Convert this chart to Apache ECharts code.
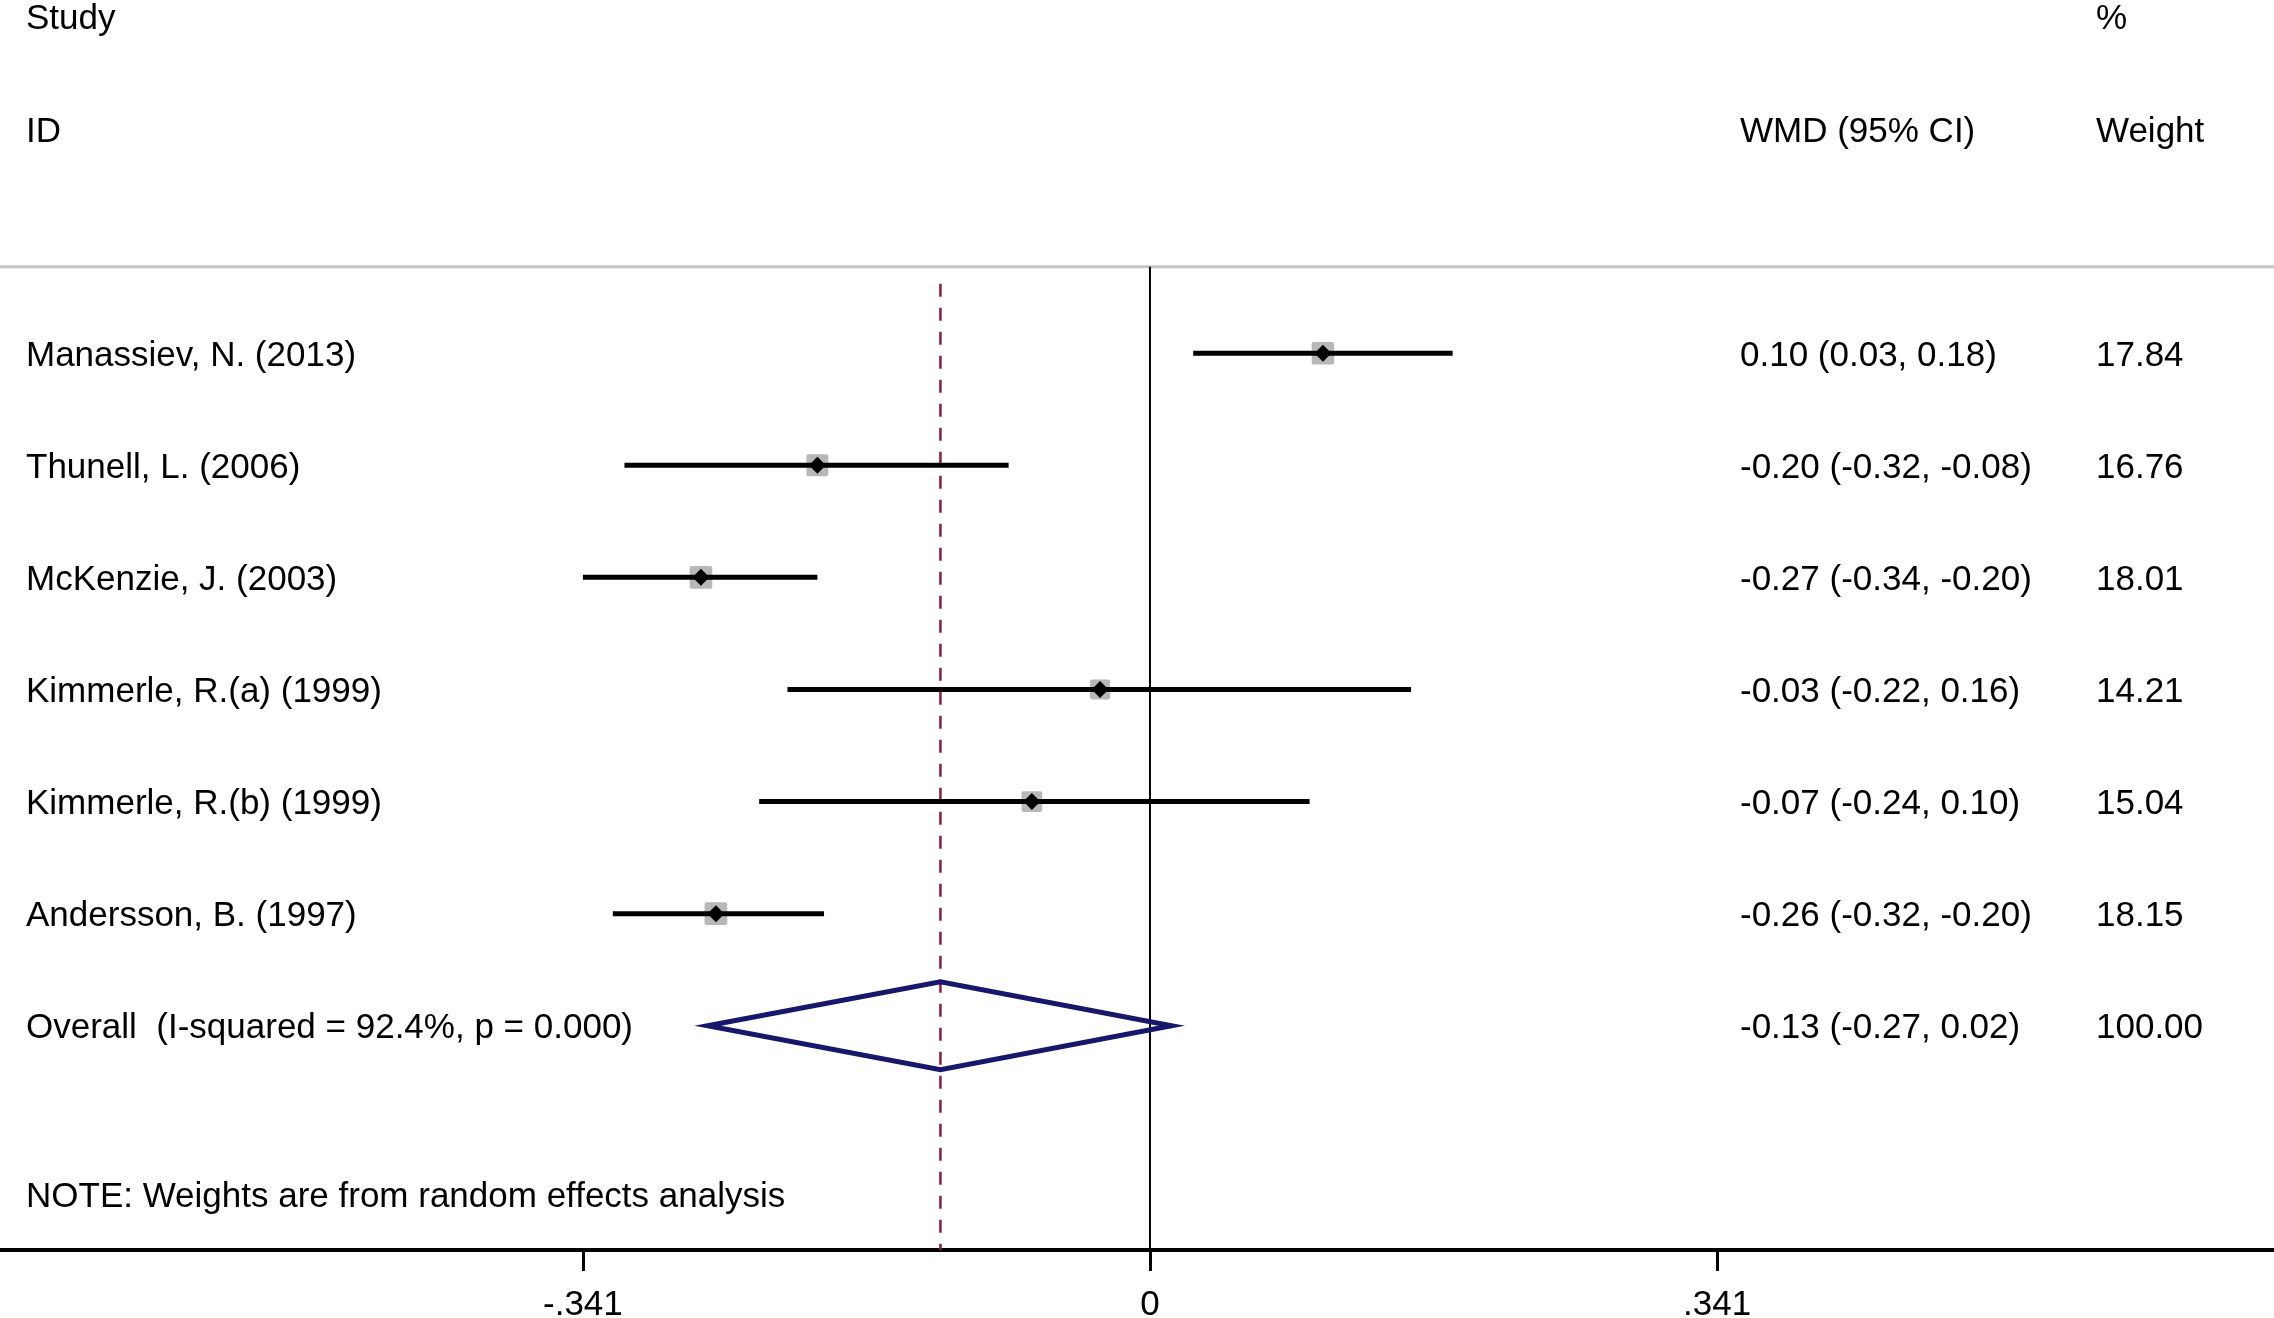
<!DOCTYPE html>
<html style="height: 100%">
<head>
    <meta charset="utf-8">
</head>
<body style="height: 100%; margin: 0; background: #fff">
<div id="container" style="width: 2274px; height: 1318px"></div>
<script type="text/javascript" src="https://cdn.jsdelivr.net/npm/echarts@6/dist/echarts.min.js"></script>
<script type="text/javascript">
    // studies, top to bottom
    var studies = ["Manassiev, N. (2013)", "Thunell, L. (2006)", "McKenzie, J. (2003)",
        "Kimmerle, R.(a) (1999)", "Kimmerle, R.(b) (1999)", "Andersson, B. (1997)"];
    var est = [0.104, -0.200, -0.270, -0.030, -0.071, -0.261];
    var lo = [0.026, -0.316, -0.341, -0.218, -0.235, -0.323];
    var hi = [0.182, -0.085, -0.200, 0.157, 0.096, -0.196];
    var weights = [17.84, 16.76, 18.01, 14.21, 15.04, 18.15];
    var ciLabels = ["0.10 (0.03, 0.18)", "-0.20 (-0.32, -0.08)", "-0.27 (-0.34, -0.20)",
        "-0.03 (-0.22, 0.16)", "-0.07 (-0.24, 0.10)", "-0.26 (-0.32, -0.20)"];
    var weightLabels = ["17.84", "16.76", "18.01", "14.21", "15.04", "18.15"];

    // overall (random effects)
    var overallName = "Overall  (I-squared = 92.4%, p = 0.000)";
    var overallEst = -0.126;
    var overallLo = -0.266;
    var overallHi = 0.013;
    var overallLabel = "-0.13 (-0.27, 0.02)";
    var overallWeight = "100.00";
    var note = "NOTE: Weights are from random effects analysis";

    var tickValues = [-0.341, 0, 0.341];
    var tickLabels = ["-.341", "0", ".341"];

    var X_MIN = -0.6915, X_MAX = 0.6759;
    var Y_MIN = -3.15, Y_MAX = 8;
    var FONT = "35px 'Liberation Sans', Arial, sans-serif";
    var COL_NAME = 26, COL_CI = 1740, COL_W = 2096;

    var dom = document.getElementById("container");
    var myChart = echarts.init(dom);

    var studyData = [];
    for (var i = 0; i < studies.length; i++) {
        studyData.push([i, est[i], lo[i], hi[i], weights[i]]);
    }
    var nOverall = studies.length;

    // text rows: [row, name, ci, weight]
    var textRows = [
        [-3, "Study", "", "%"],
        [-2, "ID", "WMD (95% CI)", "Weight"]
    ];
    for (var i = 0; i < studies.length; i++) {
        textRows.push([i, studies[i], ciLabels[i], weightLabels[i]]);
    }
    textRows.push([nOverall, overallName, overallLabel, overallWeight]);
    textRows.push([7.5, note, "", ""]);

    function txt(x, y, s) {
        return {
            type: 'text',
            style: {text: s, x: x, y: y + 3, font: FONT, fill: '#000',
                textAlign: 'left', textVerticalAlign: 'middle'}
        };
    }

    option = {
        animation: false,
        backgroundColor: '#fff',
        grid: {left: 0, right: 0, top: 0, bottom: 68, containLabel: false, outerBoundsMode: 'none'},
        xAxis: {
            type: 'value',
            min: X_MIN,
            max: X_MAX,
            splitLine: {show: false},
            axisLine: {show: true, onZero: false, lineStyle: {color: '#000', width: 4}},
            axisTick: {show: true, length: 21, lineStyle: {color: '#000', width: 3},
                customValues: tickValues},
            axisLabel: {
                customValues: tickValues,
                margin: 38,
                color: '#000',
                fontSize: 35,
                fontFamily: "'Liberation Sans', Arial, sans-serif",
                formatter: function (v) {
                    for (var k = 0; k < tickValues.length; k++) {
                        if (Math.abs(v - tickValues[k]) < 1e-9) return tickLabels[k];
                    }
                    return '';
                }
            }
        },
        yAxis: {
            type: 'value',
            min: Y_MIN,
            max: Y_MAX,
            inverse: true,
            show: false
        },
        series: [
            {
                // header rule, zero line, overall dashed line
                type: 'custom',
                clip: false,
                data: [[0]],
                renderItem: function (params, api) {
                    var rule = api.coord([X_MIN, -0.77])[1];
                    var z0 = api.coord([0, -0.77]);
                    var z1 = api.coord([0, Y_MAX]);
                    var d0 = api.coord([overallEst, -0.62]);
                    var d1 = api.coord([overallEst, Y_MAX]);
                    return {
                        type: 'group',
                        children: [
                            {type: 'line', shape: {x1: 0, y1: rule, x2: 2274, y2: rule},
                                style: {stroke: '#c4c4c4', lineWidth: 3}},
                            {type: 'line', shape: {x1: z0[0], y1: z0[1], x2: z1[0], y2: z1[1]},
                                style: {stroke: '#000', lineWidth: 2}},
                            {type: 'line', shape: {x1: d0[0], y1: d0[1], x2: d1[0], y2: d1[1]},
                                style: {stroke: '#8b1c3a', lineWidth: 2.5, lineDash: [13, 11]}}
                        ]
                    };
                }
            },
            {
                // study CIs with weight boxes
                type: 'custom',
                clip: false,
                data: studyData,
                renderItem: function (params, api) {
                    var row = api.value(0);
                    var pE = api.coord([api.value(1), row]);
                    var pL = api.coord([api.value(2), row]);
                    var pH = api.coord([api.value(3), row]);
                    var s = 5.33 * Math.sqrt(api.value(4));
                    var d = 8.5;
                    return {
                        type: 'group',
                        children: [
                            {type: 'rect', shape: {x: pE[0] - s / 2, y: pE[1] - s / 2, width: s, height: s, r: 2},
                                style: {fill: '#b8b8b8'}},
                            {type: 'line', shape: {x1: pL[0], y1: pL[1], x2: pH[0], y2: pH[1]},
                                style: {stroke: '#000', lineWidth: 5}},
                            {type: 'polygon', shape: {points: [[pE[0], pE[1] - d], [pE[0] + d, pE[1]],
                                    [pE[0], pE[1] + d], [pE[0] - d, pE[1]]]},
                                style: {fill: '#000'}}
                        ]
                    };
                }
            },
            {
                // overall diamond
                type: 'custom',
                clip: false,
                data: [[nOverall, overallEst, overallLo, overallHi]],
                renderItem: function (params, api) {
                    var row = api.value(0);
                    var pE = api.coord([api.value(1), row]);
                    var pL = api.coord([api.value(2), row]);
                    var pH = api.coord([api.value(3), row]);
                    var h = 44;
                    return {
                        type: 'polygon',
                        shape: {points: [[pL[0], pL[1]], [pE[0], pE[1] - h], [pH[0], pH[1]], [pE[0], pE[1] + h]]},
                        style: {fill: 'none', stroke: '#17176b', lineWidth: 5, lineJoin: 'miter'}
                    };
                }
            },
            {
                // text columns
                type: 'custom',
                clip: false,
                data: textRows,
                renderItem: function (params, api) {
                    var r = textRows[params.dataIndex];
                    var y = api.coord([0, r[0]])[1];
                    return {
                        type: 'group',
                        children: [txt(COL_NAME, y, r[1]), txt(COL_CI, y, r[2]), txt(COL_W, y, r[3])]
                    };
                }
            }
        ]
    };

    myChart.setOption(option, true);
</script>
</body>
</html>
